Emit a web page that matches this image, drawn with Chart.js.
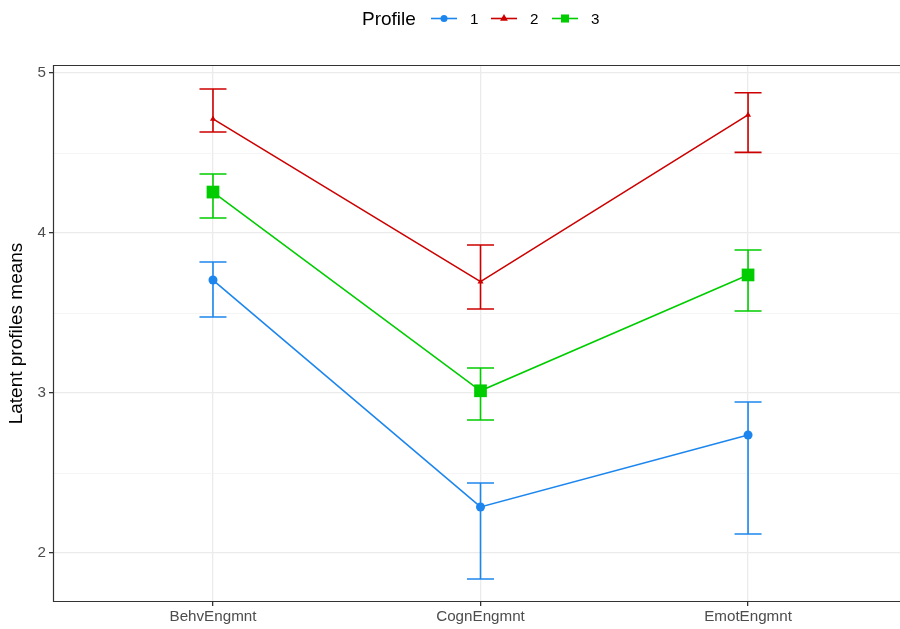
<!DOCTYPE html>
<html>
<head>
<meta charset="utf-8">
<script src="https://cdn.jsdelivr.net/npm/chart.js@4.4.1/dist/chart.umd.min.js"></script>
<style>
  html, body { margin: 0; padding: 0; background: #fff; overflow: hidden; }
  #wrap { width: 900px; height: 629px; position: relative; }
</style>
</head>
<body>
<div id="wrap"><canvas id="chart"></canvas></div>
<script>
// Data
const categories = ["BehvEngmnt", "CognEngmnt", "EmotEngmnt"];
const profiles = ["1", "2", "3"];

const profile1Means = [3.706, 2.288, 2.738];
const profile1Lower = [3.475, 1.838, 2.119];
const profile1Upper = [3.819, 2.438, 2.944];

const profile2Means = [4.713, 3.696, 4.738];
const profile2Lower = [4.631, 3.525, 4.504];
const profile2Upper = [4.900, 3.925, 4.877];

const profile3Means = [4.256, 3.014, 3.738];
const profile3Lower = [4.094, 2.831, 3.513];
const profile3Upper = [4.369, 3.156, 3.894];

const yTicks = [2, 3, 4, 5];

const colors = ["#1C86EE", "#CD0000", "#00CD00"];
const pointStyles = ["circle", "triangle", "rect"];
const pointSizes = [4.5, 3.5, 9];
const FONT = "'Liberation Sans', Arial, sans-serif";
const BASE = 19;
const SMALL = 15.2;

const toPoints = (vals) => vals.map((v, i) => ({ x: i + 1, y: v }));

const series = [
    { means: profile1Means, lower: profile1Lower, upper: profile1Upper },
    { means: profile2Means, lower: profile2Lower, upper: profile2Upper },
    { means: profile3Means, lower: profile3Lower, upper: profile3Upper },
];

// error bars drawn through the chart's own scales
const errorBars = {
    id: "errorBars",
    beforeDatasetsDraw(chart) {
        const { ctx, scales } = chart;
        chart.data.datasets.forEach((ds) => {
            ctx.save();
            ctx.strokeStyle = ds.borderColor;
            ctx.lineWidth = 1.6;
            ds.lower.forEach((lo, i) => {
                const x = scales.x.getPixelForValue(i + 1);
                const yLo = scales.y.getPixelForValue(lo);
                const yHi = scales.y.getPixelForValue(ds.upper[i]);
                ctx.beginPath();
                ctx.moveTo(x, yLo);
                ctx.lineTo(x, yHi);
                ctx.moveTo(x - 13.5, yLo);
                ctx.lineTo(x + 13.5, yLo);
                ctx.moveTo(x - 13.5, yHi);
                ctx.lineTo(x + 13.5, yHi);
                ctx.stroke();
            });
            ctx.restore();
        });
    },
};

// panel border like theme_bw (right side runs past the picture edge)
const panelBorder = {
    id: "panelBorder",
    afterDraw(chart) {
        const { ctx, chartArea: a } = chart;
        ctx.save();
        ctx.strokeStyle = "#333333";
        ctx.lineWidth = 1.2;
        ctx.beginPath();
        ctx.moveTo(chart.width, a.top + 0.5);
        ctx.lineTo(a.left + 0.5, a.top + 0.5);
        ctx.lineTo(a.left + 0.5, a.bottom - 0.5);
        ctx.lineTo(chart.width, a.bottom - 0.5);
        ctx.stroke();
        ctx.restore();
    },
};

// legend in ggplot style: title on the left, keys in a row
const topLegend = {
    id: "topLegend",
    afterDraw(chart) {
        const { ctx } = chart;
        const y = 18.5;
        ctx.save();
        ctx.font = BASE + "px " + FONT;
        ctx.fillStyle = "#000";
        ctx.textBaseline = "middle";
        ctx.textAlign = "left";
        ctx.fillText("Profile", 362, y + 1);
        const keyStart = [431, 491, 552];
        chart.data.datasets.forEach((ds, i) => {
            const x0 = keyStart[i];
            ctx.strokeStyle = ds.borderColor;
            ctx.lineWidth = 1.6;
            ctx.beginPath();
            ctx.moveTo(x0, y);
            ctx.lineTo(x0 + 26, y);
            ctx.stroke();
            ctx.fillStyle = ds.borderColor;
            Chart.helpers.drawPoint(ctx, {
                pointStyle: pointStyles[i],
                radius: [3.5, 4.5, 5.7][i],
                borderWidth: 0,
                rotation: 0,
            }, x0 + 13, y);
            ctx.fillStyle = "#000";
            ctx.font = SMALL + "px " + FONT;
            ctx.fillText(ds.label, x0 + 39, y + 1);
        });
        ctx.restore();
    },
};

new Chart(document.getElementById("chart"), {
    type: "line",
    data: {
        datasets: series.map((s, i) => ({
            label: profiles[i],
            data: toPoints(s.means),
            lower: s.lower,
            upper: s.upper,
            borderColor: colors[i],
            backgroundColor: colors[i],
            borderWidth: 1.6,
            tension: 0,
            fill: false,
            pointStyle: pointStyles[i],
            pointRadius: pointSizes[i],
            pointBorderWidth: 0,
            pointBackgroundColor: colors[i],
        })),
    },
    options: {
        responsive: true,
        maintainAspectRatio: false,
        animation: false,
        layout: { autoPadding: false, padding: { top: 65, right: 0, left: 0, bottom: 0 } },
        plugins: {
            legend: { display: false },
            tooltip: { enabled: false },
        },
        scales: {
            x: {
                type: "linear",
                min: 0.402,
                max: 3.568,
                afterBuildTicks: (scale) => {
                    scale.ticks = categories.map((c, i) => ({ value: i + 1 }));
                },
                afterFit: (scale) => {
                    scale.height = 27;
                    scale.paddingLeft = 0;
                    scale.paddingRight = 0;
                },
                ticks: {
                    callback: (v) => categories[v - 1] ?? "",
                    color: "#4D4D4D",
                    font: { size: SMALL, family: FONT },
                    padding: 2,
                    maxRotation: 0,
                    autoSkip: false,
                },
                grid: {
                    color: "#EBEBEB",
                    lineWidth: 1.3,
                    tickColor: "#333333",
                    tickLength: 4,
                },
                border: { display: false },
            },
            y: {
                min: 1.694,
                max: 5.05,
                afterBuildTicks: (scale) => {
                    const t = [];
                    for (let v = 1.5; v <= 5; v += 0.5) if (v >= 1.694) t.push({ value: v });
                    scale.ticks = t;
                },
                afterFit: (scale) => {
                    scale.width = 53;
                    scale.paddingTop = 0;
                    scale.paddingBottom = 0;
                },
                title: {
                    display: true,
                    text: "Latent profiles means",
                    color: "#000",
                    font: { size: BASE, family: FONT },
                    padding: { top: 5, bottom: 2 },
                },
                ticks: {
                    callback: (v) => (yTicks.includes(v) ? String(v) : ""),
                    color: "#4D4D4D",
                    font: { size: SMALL, family: FONT },
                    padding: 3,
                },
                grid: {
                    color: (c) => (Number.isInteger(c.tick.value) ? "#EBEBEB" : "#F3F3F3"),
                    lineWidth: (c) => (Number.isInteger(c.tick.value) ? 1.3 : 0.8),
                    tickColor: (c) => (Number.isInteger(c.tick.value) ? "#333333" : "transparent"),
                    tickLength: 4,
                },
                border: { display: false },
            },
        },
    },
    plugins: [errorBars, panelBorder, topLegend],
});
</script>
</body>
</html>
